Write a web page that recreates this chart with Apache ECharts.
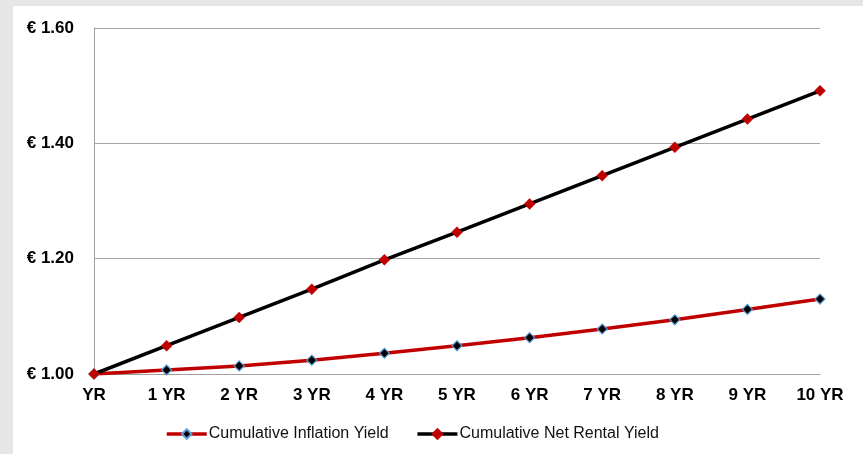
<!DOCTYPE html>
<html>
<head>
<meta charset="utf-8">
<script src="https://cdn.jsdelivr.net/npm/echarts@6/dist/echarts.min.js"></script>
<style>
html,body{margin:0;padding:0;background:#e6e6e6;}
#c{width:863px;height:454px;}
</style>
</head>
<body>
<div id="c"></div>
<script>
const categories = ['YR','1 YR','2 YR','3 YR','4 YR','5 YR','6 YR','7 YR','8 YR','9 YR','10 YR'];
const inflationYield = [1.000, 1.007, 1.014, 1.024, 1.036, 1.049, 1.063, 1.078, 1.094, 1.112, 1.130];
const netRentalYield = [1.000, 1.049, 1.098, 1.147, 1.198, 1.246, 1.295, 1.344, 1.393, 1.442, 1.491];
const seriesNames = ['Cumulative Inflation Yield', 'Cumulative Net Rental Yield'];
const yTicks = { min: 1.0, max: 1.6, interval: 0.2 };

const chart = echarts.init(document.getElementById('c'), null, {renderer: 'canvas'});
const font = '"Liberation Sans", Arial, sans-serif';
chart.setOption({
  backgroundColor: '#e6e6e6',
  animation: false,
  graphic: [{
    type: 'rect', z: -10, silent: true,
    shape: {x: 13, y: 6, width: 850, height: 448},
    style: {fill: '#ffffff'}
  }],
  grid: {left: 94, right: 43, top: 28, bottom: 80, containLabel: false},
  legend: {
    data: seriesNames,
    bottom: 7,
    left: 160,
    itemWidth: 40,
    itemHeight: 12,
    itemGap: 27,
    lineStyle: {width: 3.5},
    textStyle: {fontFamily: font, fontSize: 16, color: '#111', padding: [0,0,0,-3]}
  },
  xAxis: {
    type: 'category',
    data: categories,
    boundaryGap: false,
    axisLine: {lineStyle: {color: '#a0a0a0', width: 1}},
    axisTick: {show: false},
    axisLabel: {fontFamily: font, fontSize: 17, fontWeight: 'bold', color: '#000', margin: 13}
  },
  yAxis: {
    type: 'value',
    min: yTicks.min, max: yTicks.max, interval: yTicks.interval,
    axisLine: {show: true, lineStyle: {color: '#a0a0a0', width: 1}},
    axisTick: {show: false},
    splitLine: {lineStyle: {color: '#a6a6a6', width: 1}},
    axisLabel: {fontFamily: font, fontSize: 17, fontWeight: 'bold', color: '#000', margin: 20,
      formatter: v => '€ ' + v.toFixed(2)}
  },
  series: [
    {
      name: seriesNames[0], type: 'line', data: inflationYield,
      symbol: 'diamond', symbolSize: 10,
      lineStyle: {color: '#c00000', width: 3.5},
      itemStyle: {color: '#000000', borderColor: '#5b9bd5', borderWidth: 1.2},
      z: 2
    },
    {
      name: seriesNames[1], type: 'line', data: netRentalYield,
      symbol: 'diamond', symbolSize: 11,
      lineStyle: {color: '#000000', width: 3.5},
      itemStyle: {color: '#c00000', borderColor: '#c00000', borderWidth: 0.5},
      z: 3
    }
  ]
});
</script>
</body>
</html>
